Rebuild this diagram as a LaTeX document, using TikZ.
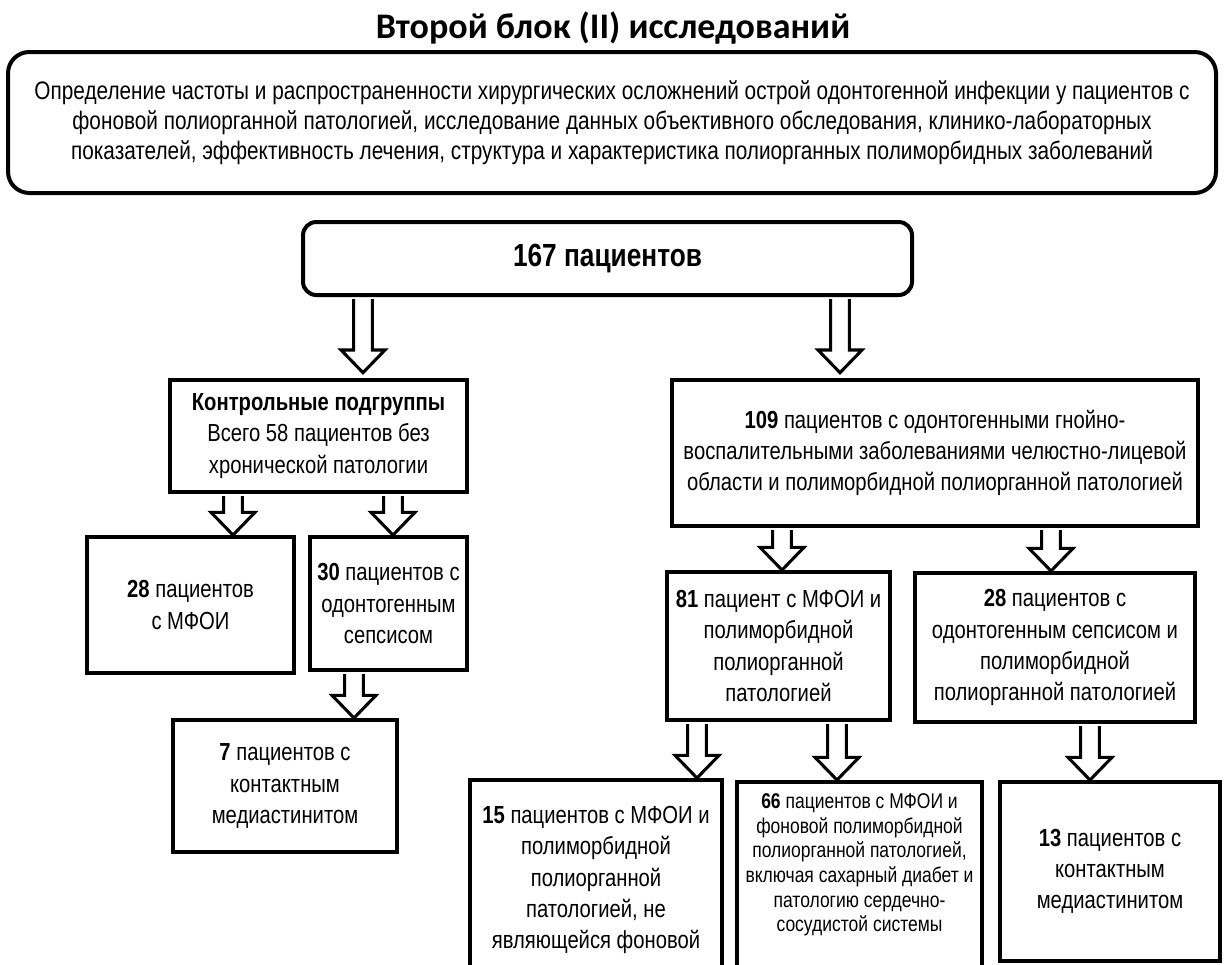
\documentclass[tikz,border=0pt]{standalone}
\usepackage{fontspec}
\setmainfont{Liberation Sans}[FakeStretch=0.82]
\newfontfamily\titlefont{Carlito}
\usetikzlibrary{calc}
\newcommand\barrow[4][0pt]{%
  \draw[blockarrow] let \p0=(#4,0), \p1=(#2.south), \p2=(#3.north) in
    (\x0-7pt,\y1-1.5pt) -- (\x0-7pt,\y2+#1+17pt) -- (\x0-16.5pt,\y2+#1+17pt)
    -- (\x0,\y2+#1) -- (\x0+16.5pt,\y2+#1+17pt) -- (\x0+7pt,\y2+#1+17pt)
    -- (\x0+7pt,\y1-1.5pt);}
\begin{document}
\begin{tikzpicture}[x=0.75pt,y=-0.75pt,
  wh/.style 2 args={minimum width=#1*0.75pt, minimum height=#2*0.75pt},
  box/.style={draw=black, line width=3pt, fill=white, align=center, inner sep=0pt,
    font=\fontsize{18.5}{23.3}\selectfont},
  rbox/.style={box, rounded corners=10pt},
  plain/.style={align=center, inner sep=0pt},
  blockarrow/.style={draw=black, line width=2.3pt, fill=white, line join=miter}]
\useasboundingbox (0,0) rectangle (1224,964);
\clip (0,0) rectangle (1224,964);
\node[plain, anchor=base, font=\titlefont\bfseries\fontsize{27}{31}\selectfont] (title) at (613,38) {Второй блок (II) исследований};
\node[rbox, rounded corners=16pt, wh={1208}{141}, font=\fontsize{19}{22.5}\selectfont] (top) at (612,122.5)
 {Определение частоты и распространенности хирургических осложнений острой одонтогенной инфекции у пациентов с\\
  фоновой полиорганной патологией, исследование данных объективного обследования, клинико-лабораторных\\
  показателей, эффективность лечения, структура и характеристика полиорганных полиморбидных заболеваний};
\node[rbox, wh={609}{73}, font=\bfseries\fontsize{24}{28}\selectfont] (b167) at (607.5,258.5) {167 пациентов};
\node[box, wh={297}{112}] (kontrol) at (318.5,436)
 {\textbf{Контрольные подгруппы}\\Всего 58 пациентов без\\хронической патологии};
\node[box, wh={526}{146}] (b109) at (935,453)
 {\textbf{109} пациентов с одонтогенными гнойно-\\воспалительными заболеваниями челюстно-лицевой\\области и полиморбидной полиорганной патологией};
\node[box, wh={207}{136}] (b28) at (190.5,605) {\textbf{28} пациентов\\с МФОИ};
\node[box, wh={157}{133}] (b30) at (388.5,603.5) {\textbf{30} пациентов с\\одонтогенным\\сепсисом};
\node[box, wh={224}{132}] (b7) at (285,786) {\textbf{7} пациентов с\\контактным\\медиастинитом};
\node[box, wh={223}{148}] (b81) at (778.5,646) {\textbf{81} пациент с МФОИ и\\полиморбидной\\полиорганной\\патологией};
\node[box, wh={280}{149}] (b28s) at (1055,647.5) {\textbf{28} пациентов с\\одонтогенным сепсисом и\\полиморбидной\\полиорганной патологией};
\node[box, wh={252}{200}] (b15) at (596,880) {\textbf{15} пациентов с МФОИ и\\полиморбидной\\полиорганной\\патологией, не\\являющейся фоновой};
\node[box, wh={245}{198}] (b66) at (859.5,881) {};
\node[plain, font=\fontsize{16}{18.5}\selectfont] (t66) at (859.5,865) {\textbf{66} пациентов с МФОИ и\\фоновой полиморбидной\\полиорганной патологией,\\включая сахарный диабет и\\патологию сердечно-\\сосудистой системы};
\node[box, wh={220}{179}] (b13) at (1110,871.5) {\textbf{13} пациентов с\\контактным\\медиастинитом};
\barrow[4pt]{b167}{kontrol}{363}
\barrow[4pt]{b167}{b109}{840}
\barrow{kontrol}{b28}{233}
\barrow{kontrol}{b30}{393}
\barrow{b30}{b7}{354}
\barrow{b109}{b81}{782}
\barrow{b109}{b28s}{1051}
\barrow{b81}{b15}{697}
\barrow{b81}{b66}{837}
\barrow{b28s}{b13}{1090}
\end{tikzpicture}
\end{document}
